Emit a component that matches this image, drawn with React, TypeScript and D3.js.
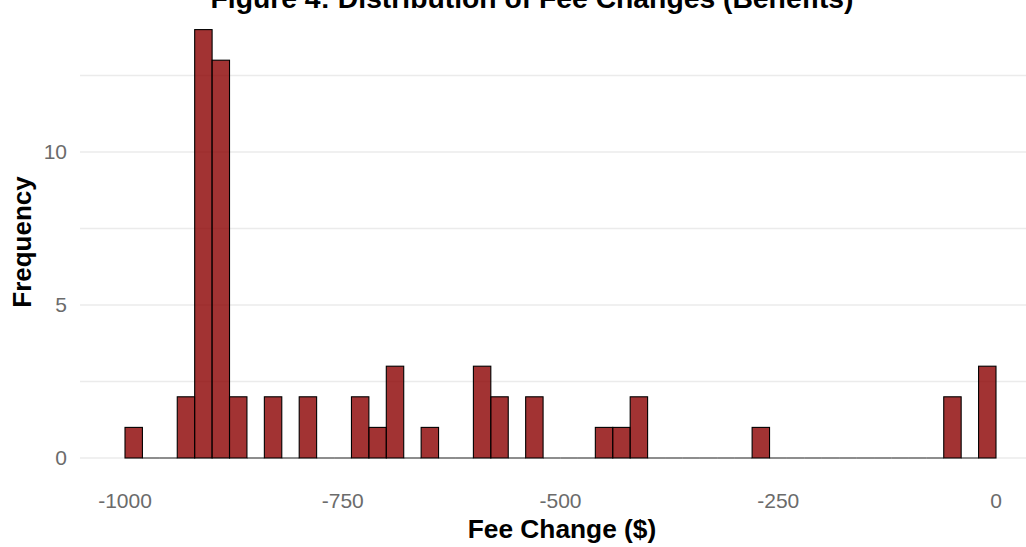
import * as d3 from 'd3';

// Histogram counts, one per $20 bin starting at -1000
const binStarts = d3.range(-1000, 0, 20);
const counts = [
  1, 0, 0, 2, 14, 13, 2, 0, 2, 0,
  2, 0, 0, 2, 1, 3, 0, 1, 0, 0,
  3, 2, 0, 2, 0, 0, 0, 1, 1, 2,
  0, 0, 0, 0, 0, 0, 1, 0, 0, 0,
  0, 0, 0, 0, 0, 0, 0, 2, 0, 3,
];
const binWidth = 20;
const xTicks = [-1000, -750, -500, -250, 0];
const yTicks = [0, 5, 10];
const yGrid = [0, 2.5, 5, 7.5, 10, 12.5];

const width = 1026;
const height = 547;

export default function App() {
  // scales
  const x = d3.scaleLinear().domain([-1000, 0]).range([125, 996]);
  const y = d3.scaleLinear().domain([0, 14]).range([458, 29.6]);
  const panelLeft = 80;
  const panelRight = width;

  return (
    <svg
      width={width}
      height={height}
      style={{ position: 'absolute', left: 0, top: 0, background: '#fff' }}
      fontFamily="'Liberation Sans', Arial, sans-serif"
    >
      {/* grid */}
      {yGrid.map((t) => (
        <line
          key={'g' + t}
          x1={panelLeft}
          x2={panelRight}
          y1={y(t)}
          y2={y(t)}
          stroke="#ebebeb"
          strokeWidth={1.5}
        />
      ))}

      {/* bars; empty bins show only their outline on the baseline */}
      {counts.map((c, i) =>
        c > 0 ? (
          <rect
            key={i}
            x={x(binStarts[i])}
            y={y(c)}
            width={x(binStarts[i] + binWidth) - x(binStarts[i])}
            height={y(0) - y(c)}
            fill="#8b0000"
            fillOpacity={0.8}
            stroke="#000"
            strokeWidth={1.1}
          />
        ) : (
          <line
            key={i}
            x1={x(binStarts[i])}
            x2={x(binStarts[i] + binWidth)}
            y1={y(0)}
            y2={y(0)}
            stroke="#000"
            strokeOpacity={0.75}
            strokeWidth={1.1}
          />
        )
      )}

      {/* x tick labels */}
      {xTicks.map((t) => (
        <text
          key={'x' + t}
          x={x(t)}
          y={508}
          textAnchor="middle"
          fontSize={21}
          fill="#6b6b6b"
        >
          {t}
        </text>
      ))}

      {/* y tick labels */}
      {yTicks.map((t) => (
        <text
          key={'y' + t}
          x={67}
          y={y(t)}
          dy="0.35em"
          textAnchor="end"
          fontSize={21}
          fill="#6b6b6b"
        >
          {t}
        </text>
      ))}

      {/* titles */}
      <text x={532} y={8} textAnchor="middle" fontSize={28.3} fontWeight="bold" fill="#000">
        Figure 4: Distribution of Fee Changes (Benefits)
      </text>
      <text x={562} y={538} textAnchor="middle" fontSize={26.3} fontWeight="bold" fill="#000">
        Fee Change ($)
      </text>
      <text
        transform="translate(31,242) rotate(-90)"
        textAnchor="middle"
        fontSize={26}
        fontWeight="bold"
        fill="#000"
      >
        Frequency
      </text>
    </svg>
  );
}
